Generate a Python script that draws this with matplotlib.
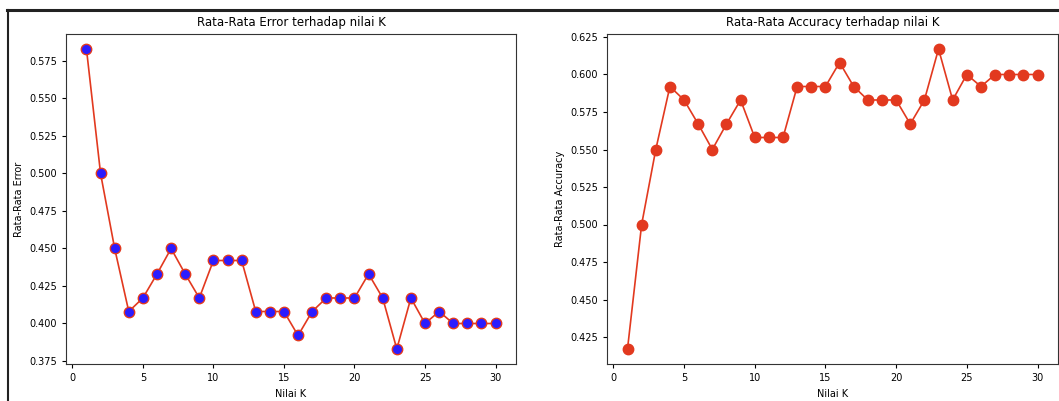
import matplotlib
matplotlib.use("Agg")
import matplotlib.pyplot as plt
from matplotlib.lines import Line2D

k_values = list(range(1, 31))
accuracy = [0.417, 0.500, 0.550, 0.592, 0.583, 0.567, 0.550, 0.567, 0.583, 0.558,
            0.558, 0.558, 0.592, 0.592, 0.592, 0.608, 0.592, 0.583, 0.583, 0.583,
            0.567, 0.583, 0.617, 0.583, 0.600, 0.592, 0.600, 0.600, 0.600, 0.600]
error = [0.583, 0.500, 0.450, 0.408, 0.417, 0.433, 0.450, 0.433, 0.417, 0.442,
         0.442, 0.442, 0.408, 0.408, 0.408, 0.392, 0.408, 0.417, 0.417, 0.417,
         0.433, 0.417, 0.383, 0.417, 0.400, 0.408, 0.400, 0.400, 0.400, 0.400]

red = '#e2391f'
blue = '#2b1cff'
fs = 7

fig = plt.figure(figsize=(10.59, 4.01), dpi=100)
ax1 = fig.add_axes([66/1059, 1-364/401, 450/1059, 330/401])
ax2 = fig.add_axes([607/1059, 1-364/401, 451/1059, 330/401])

ax1.plot(k_values, error, color=red, linestyle='-', linewidth=1.2, marker='o',
         markerfacecolor=blue, markeredgecolor=red, markersize=7.5)
ax1.set_title('Rata-Rata Error terhadap nilai K', fontsize=8.5)
ax1.set_xlabel('Nilai K', fontsize=fs)
ax1.set_ylabel('Rata-Rata Error', fontsize=fs)

ax2.plot(k_values, accuracy, color=red, linestyle='-', linewidth=1.2, marker='o',
         markerfacecolor=red, markeredgecolor=red, markersize=7.5)
ax2.set_title('Rata-Rata Accuracy terhadap nilai K', fontsize=8.5)
ax2.set_xlabel('Nilai K', fontsize=fs)
ax2.set_ylabel('Rata-Rata Accuracy', fontsize=fs)

for ax in (ax1, ax2):
    ax.tick_params(labelsize=fs, length=3)
    for s in ax.spines.values():
        s.set_color('#333333')

# screenshot frame
fig.add_artist(Line2D([7/1059, 1], [1-9.5/401, 1-9.5/401], color='#222222', linewidth=2.2,
                      transform=fig.transFigure))
fig.add_artist(Line2D([7.5/1059, 7.5/1059], [0, 1-9.5/401], color='#222222', linewidth=1.5,
                      transform=fig.transFigure))

fig.savefig('out.png', dpi=100)
